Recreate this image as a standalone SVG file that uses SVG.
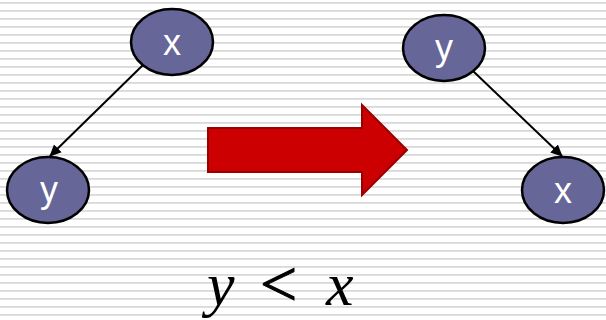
<svg xmlns="http://www.w3.org/2000/svg" width="606" height="320" viewBox="0 0 606 320">
<defs>
<pattern id="stripes" x="0" y="0" width="606" height="8" patternUnits="userSpaceOnUse">
<rect x="0" y="2" width="606" height="1.8" fill="#d9d9d9"/>
</pattern>
<marker id="ah" markerWidth="12" markerHeight="12" refX="11" refY="6" orient="auto" markerUnits="userSpaceOnUse" viewBox="0 0 12 12">
<path d="M0,0.5 L12,6 L0,11.5 z" fill="#000"/>
</marker>
</defs>
<style>
.node ellipse{fill:#666699;stroke:#000;stroke-width:2.5}
.node text{fill:#fff;font-family:"Liberation Sans",Arial,sans-serif;font-size:36px;text-anchor:middle}
.edge{stroke:#000;stroke-width:2;fill:none;marker-end:url(#ah)}
.math{font-family:"Liberation Serif","Times New Roman",serif;fill:#000}
</style>
<rect width="606" height="320" fill="#fff"/>
<rect width="606" height="320" fill="url(#stripes)"/>
<g id="connectors">
<line class="edge" x1="143" y1="65" x2="50" y2="156"/>
<line class="edge" x1="473" y1="71" x2="562" y2="156"/>
</g>
<g id="node-x-left" class="node">
<ellipse cx="172" cy="42" rx="41" ry="33"/>
<text x="172" y="55">x</text>
</g>
<g id="node-y-left" class="node">
<ellipse cx="48" cy="190" rx="41" ry="33"/>
<text x="49" y="202">y</text>
</g>
<g id="node-y-right" class="node">
<ellipse cx="444" cy="48" rx="41" ry="33"/>
<text x="444" y="60">y</text>
</g>
<g id="node-x-right" class="node">
<ellipse cx="563" cy="190" rx="41" ry="33"/>
<text x="563" y="203">x</text>
</g>
<g id="big-arrow">
<polygon points="208,128 362,128 362,105 407,150 362,195 362,172 208,172" fill="#cc0000" stroke="#990000" stroke-width="2"/>
</g>
<g id="formula" class="math">
<text x="207" y="305" font-size="62" font-style="italic">y</text>
<text x="260" y="306" font-size="66" stroke="#000" stroke-width="1">&lt;</text>
<text x="326" y="305" font-size="62" font-style="italic">x</text>
</g>
</svg>
